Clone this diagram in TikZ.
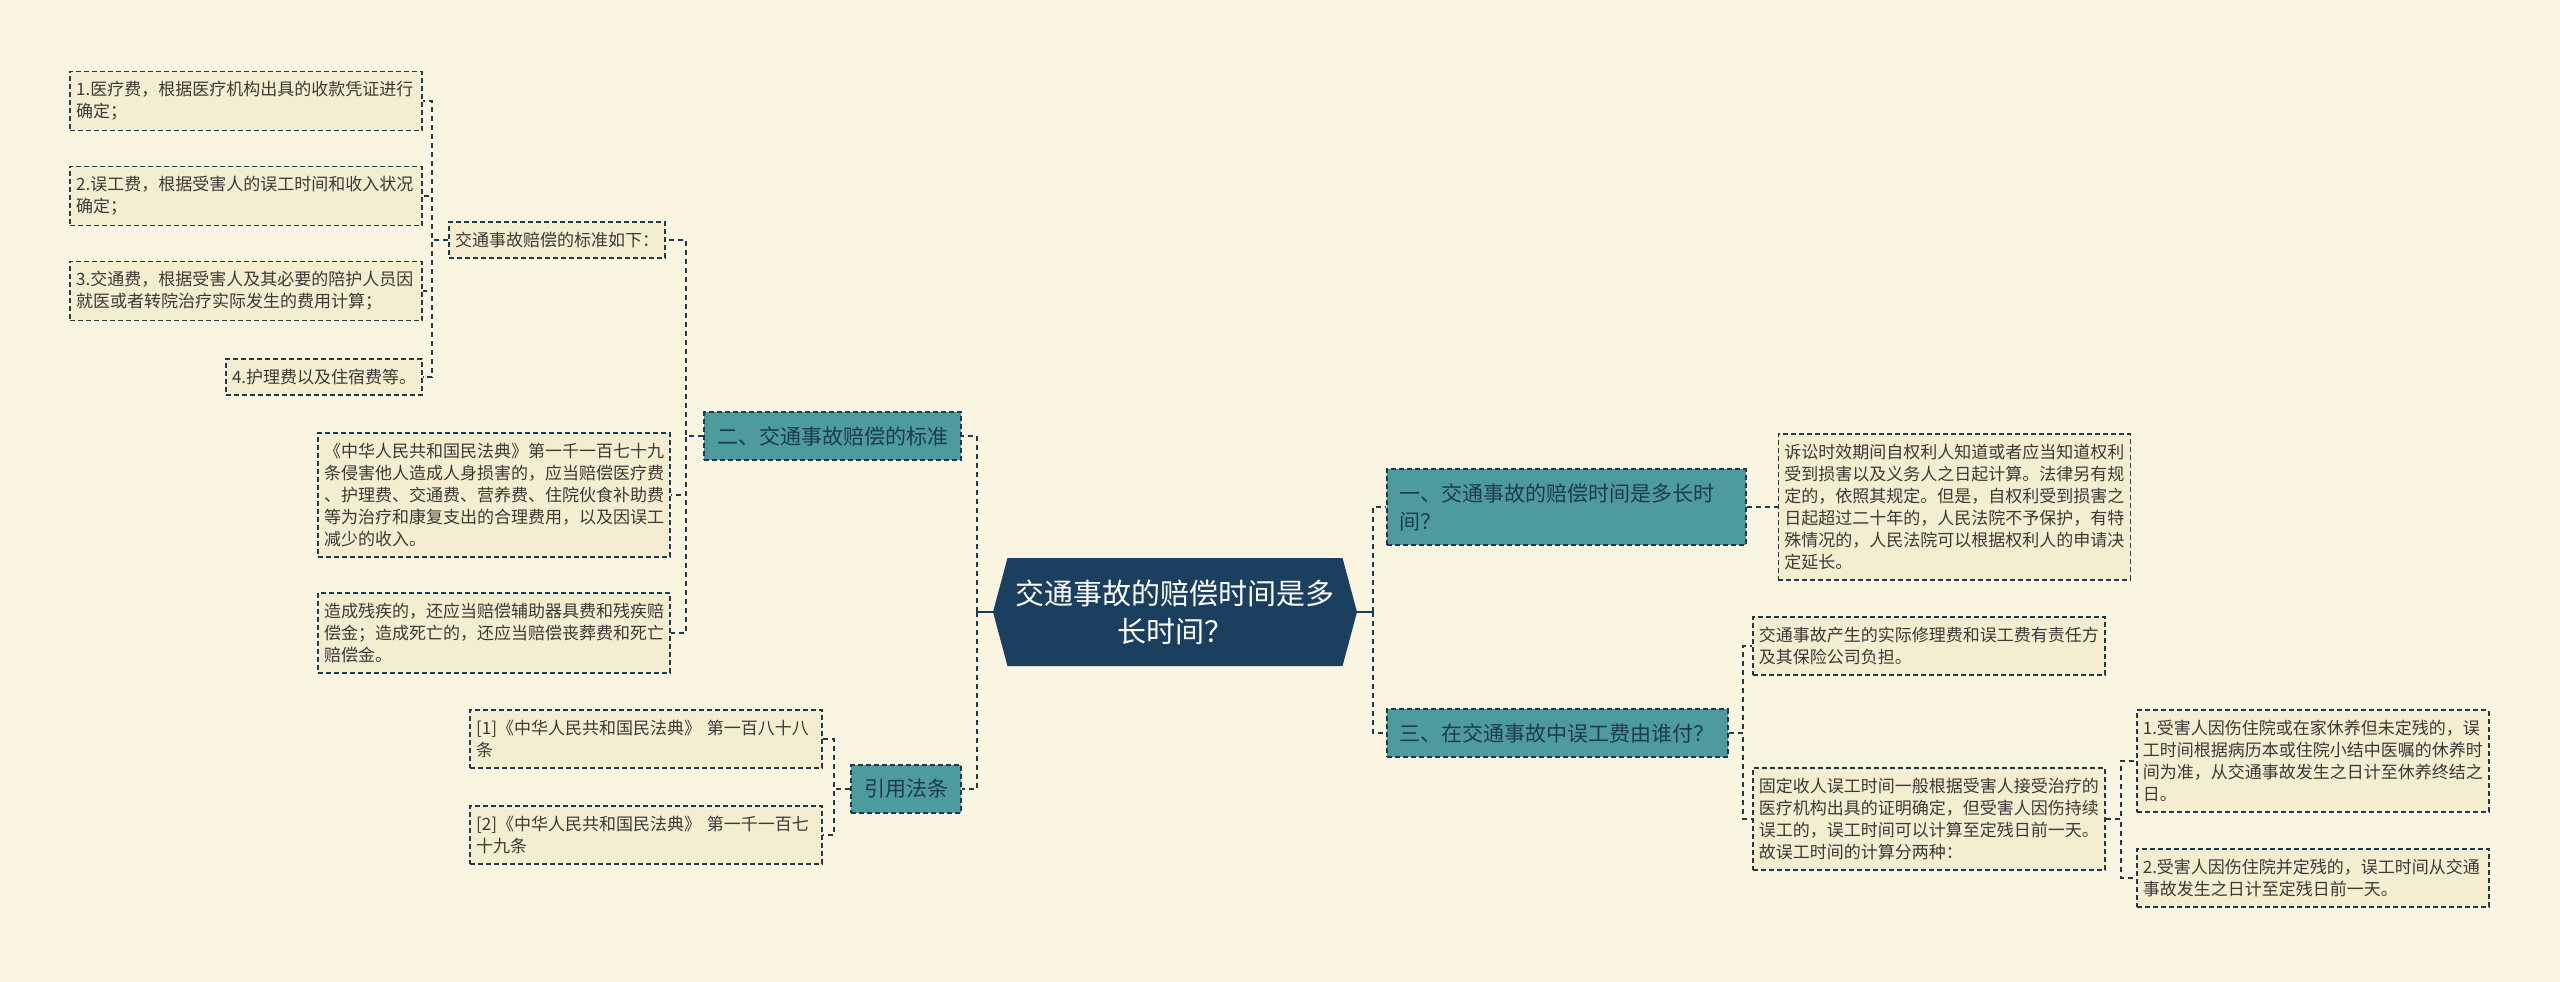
\documentclass[tikz,border=0pt]{standalone}
\usepackage{fontspec}
\setmainfont{Noto Sans CJK SC}
\usetikzlibrary{positioning,shapes.symbols}
\definecolor{paper}{HTML}{FAF5E0}
\definecolor{leaffill}{HTML}{F4EDD0}
\definecolor{ink}{HTML}{1E3A4F}
\definecolor{teal}{HTML}{4E9B9E}
\definecolor{navy}{HTML}{1B3F5F}
\definecolor{leaftext}{HTML}{3A3A38}

\begin{document}
\begin{tikzpicture}[x=1pt, y=-1pt,
  leaf/.style={draw=ink, dash pattern=on 5pt off 3pt, line width=1.6pt,
               fill=leaffill, text=leaftext, align=left,
               font=\fontsize{17}{22}\selectfont,
               inner xsep=6pt, inner ysep=10pt},
  wideleaf/.style={leaf, text width=340pt},
  topic/.style={draw=ink, dash pattern=on 5pt off 3pt, line width=1.6pt,
                fill=teal, text=ink, align=left,
                font=\fontsize{21}{28}\selectfont,
                inner xsep=13pt, inner ysep=14pt},
  hub/.style={signal, signal to=west and east, signal pointer angle=150,
              fill=navy, text=white, align=center,
              font=\fontsize{29}{38}\selectfont,
              minimum width=364pt, minimum height=108pt, inner sep=0pt},
  link/.style={ink, line width=2pt, dash pattern=on 5pt off 4pt},
  stub/.style={ink, line width=1.6pt}
]
\fill[paper] (0,0) rectangle (2560,982);

% centre
\node[hub] (hub) at (1175,612) {交通事故的赔偿时间是多\\长时间？};

% left branches
\node[topic, anchor=east] (two) at (962,436) {二、交通事故赔偿的标准};
\node[topic, anchor=east] (cite) at (962,789) {引用法条};

\node[leaf, anchor=east] (std) at (666,240) {交通事故赔偿的标准如下：};
\node[wideleaf, anchor=east] (law) at (671,495)
  {《中华人民共和国民法典》第一千一百七十九\\条侵害他人造成人身损害的，应当赔偿医疗费\\、护理费、交通费、营养费、住院伙食补助费\\等为治疗和康复支出的合理费用，以及因误工\\减少的收入。};
\node[wideleaf, anchor=east] (dis) at (671,633)
  {造成残疾的，还应当赔偿辅助器具费和残疾赔\\偿金；造成死亡的，还应当赔偿丧葬费和死亡\\赔偿金。};

\node[wideleaf, anchor=east] (fee1) at (423,101) {1.医疗费，根据医疗机构出具的收款凭证进行\\确定；};
\node[wideleaf, anchor=east] (fee2) at (423,196) {2.误工费，根据受害人的误工时间和收入状况\\确定；};
\node[wideleaf, anchor=east] (fee3) at (423,291) {3.交通费，根据受害人及其必要的陪护人员因\\就医或者转院治疗实际发生的费用计算；};
\node[leaf, anchor=east] (fee4) at (423,377) {4.护理费以及住宿费等。};

\node[wideleaf, anchor=east] (ref1) at (823,739) {[1]《中华人民共和国民法典》 第一百八十八\\条};
\node[wideleaf, anchor=east] (ref2) at (823,835) {[2]《中华人民共和国民法典》 第一千一百七\\十九条};

% right branches
\node[topic, anchor=west, text width=333pt] (one) at (1386,507) {一、交通事故的赔偿时间是多长时\\间？};
\node[topic, anchor=west] (three) at (1386,733) {三、在交通事故中误工费由谁付？};

\node[wideleaf, right=31pt of one] (lim)
  {诉讼时效期间自权利人知道或者应当知道权利\\受到损害以及义务人之日起计算。法律另有规\\定的，依照其规定。但是，自权利受到损害之\\日起超过二十年的，人民法院不予保护，有特\\殊情况的，人民法院可以根据权利人的申请决\\定延长。};
\node[wideleaf, anchor=west] (repair) at (1752,646)
  {交通事故产生的实际修理费和误工费有责任方\\及其保险公司负担。};
\node[wideleaf, anchor=west] (fixed) at (1752,819)
  {固定收人误工时间一般根据受害人接受治疗的\\医疗机构出具的证明确定，但受害人因伤持续\\误工的，误工时间可以计算至定残日前一天。\\故误工时间的计算分两种：};
\node[wideleaf, anchor=west] (case1) at (2136,761)
  {1.受害人因伤住院或在家休养但未定残的，误\\工时间根据病历本或住院小结中医嘱的休养时\\间为准，从交通事故发生之日计至休养终结之\\日。};
\node[wideleaf, anchor=west] (case2) at (2136,878)
  {2.受害人因伤住院并定残的，误工时间从交通\\事故发生之日计至定残日前一天。};

% connectors
\draw[stub] (hub.west) -- ++(-16,0) coordinate (hubL);
\draw[stub] (hub.east) -- ++(16,0) coordinate (hubR);
\foreach \c in {two,cite} \draw[link] (hubL) |- (\c.east);
\foreach \c in {one,three} \draw[link] (hubR) |- (\c.west);

\foreach \c in {std,law,dis} \draw[link] (two.west) -- ++(-17,0) |- (\c.east);
\foreach \c in {fee1,fee2,fee3,fee4} \draw[link] (std.west) -- ++(-16,0) |- (\c.east);
\foreach \c in {ref1,ref2} \draw[link] (cite.west) -- ++(-16,0) |- (\c.east);

\draw[link] (one.east) -- (lim.west);
\foreach \c in {repair,fixed} \draw[link] (three.east) -- ++(14,0) |- (\c.west);
\foreach \c in {case1,case2} \draw[link] (fixed.east) -- ++(15,0) |- (\c.west);
\end{tikzpicture}
\end{document}
